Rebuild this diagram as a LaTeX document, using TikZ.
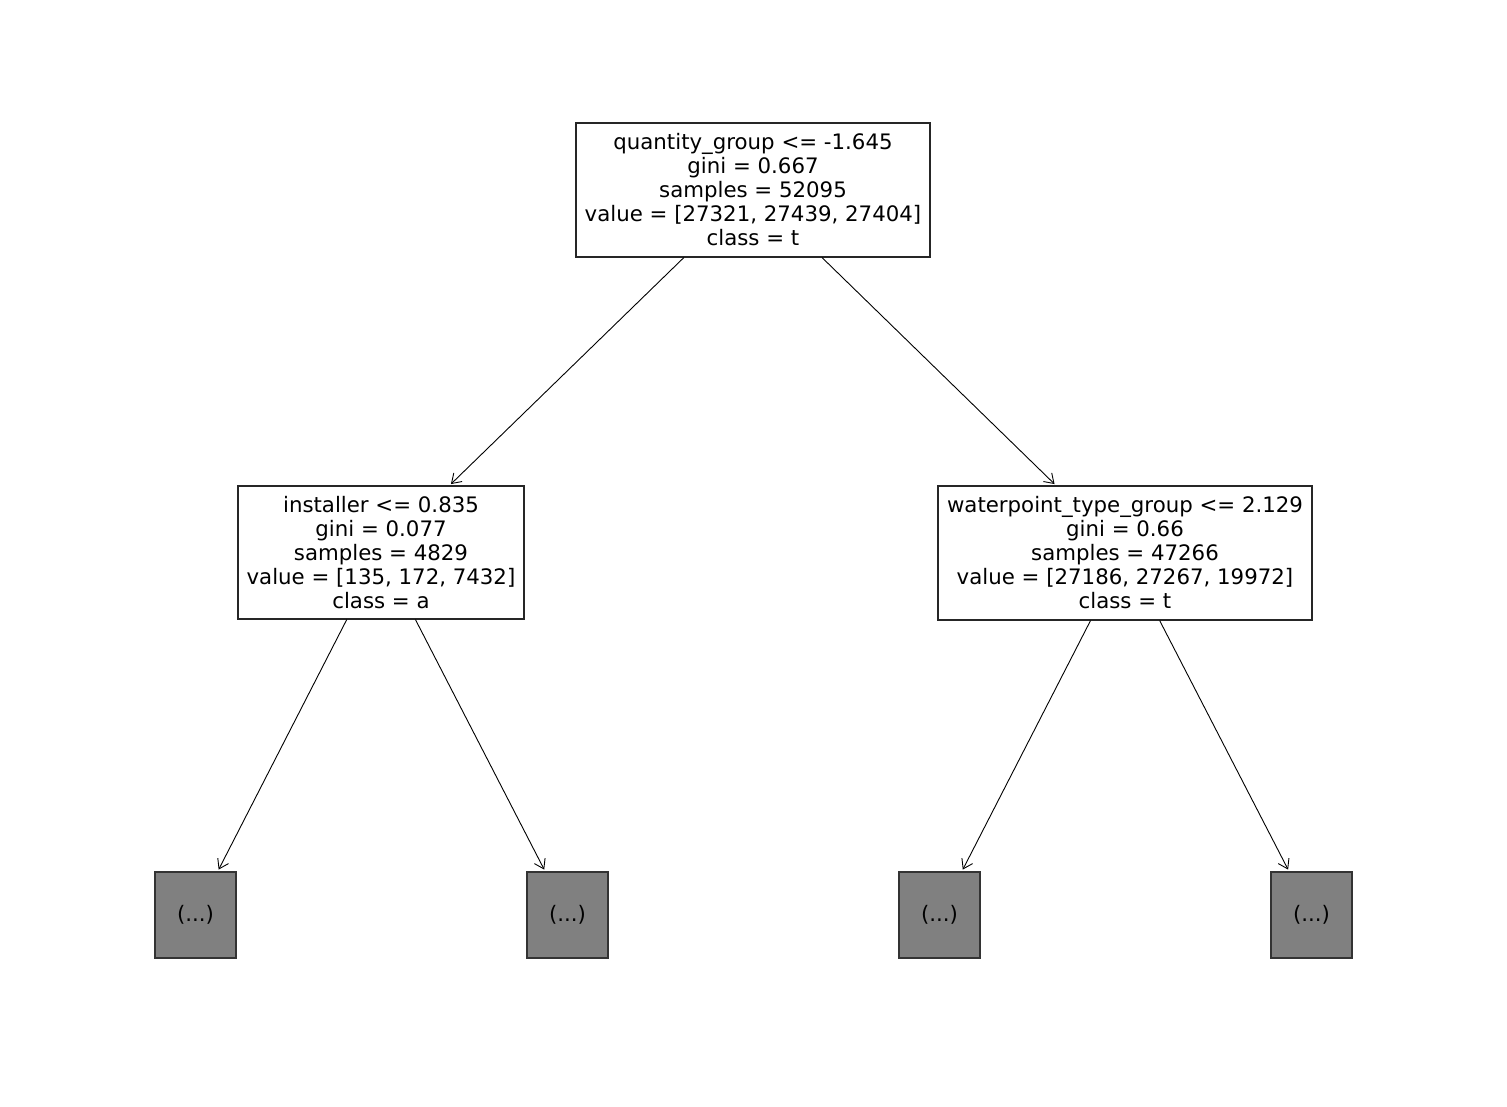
\documentclass[tikz,border=0pt]{standalone}
\usepackage{fontspec}
\setmainfont{DejaVu Sans}
\usetikzlibrary{arrows.meta}
\begin{document}
\begin{tikzpicture}[x=1pt,y=-1pt,
  tnode/.style={draw=black!85, line width=1.1pt, fill=white, align=center, inner sep=0pt,
    font=\fontsize{21.3}{24}\selectfont},
  leaf/.style={draw=black!80, line width=1.3pt, fill=black!50, inner sep=0pt,
    minimum width=81pt, minimum height=86pt, font=\fontsize{21.3}{24}\selectfont},
  edge/.style={line width=0.9pt, -{Straight Barb[length=9pt,width=12pt,line width=0.9pt]}, shorten >=2pt}]
\useasboundingbox (0,0) rectangle (1507,1106);
\node[tnode, minimum width=354pt, minimum height=134pt] (root) at (753,190)
  {quantity\_group <= -1.645\\gini = 0.667\\samples = 52095\\value = [27321, 27439, 27404]\\class = t};
\node[tnode, minimum width=286pt, minimum height=133pt] (l) at (381,552.5)
  {installer <= 0.835\\gini = 0.077\\samples = 4829\\value = [135, 172, 7432]\\class = a};
\node[tnode, minimum width=374pt, minimum height=134pt] (r) at (1125,553)
  {waterpoint\_type\_group <= 2.129\\gini = 0.66\\samples = 47266\\value = [27186, 27267, 19972]\\class = t};
\node[leaf] (ll) at (195.5,915) {(...)};
\node[leaf] (lr) at (567.5,915) {(...)};
\node[leaf] (rl) at (939.5,915) {(...)};
\node[leaf] (rr) at (1311.5,915) {(...)};
\draw[edge] (root) -- (l);
\draw[edge] (root) -- (r);
\draw[edge] (l) -- (ll);
\draw[edge] (l) -- (lr);
\draw[edge] (r) -- (rl);
\draw[edge] (r) -- (rr);
\end{tikzpicture}
\end{document}
